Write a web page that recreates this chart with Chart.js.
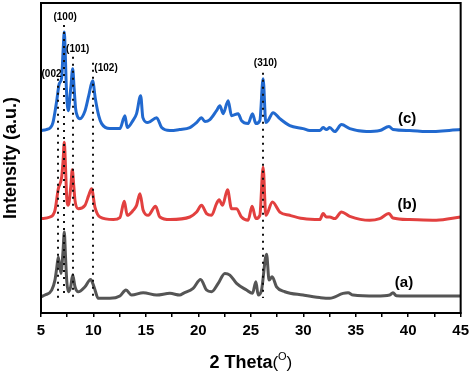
<!DOCTYPE html>
<html>
<head>
<meta charset="utf-8">
<script src="https://cdn.jsdelivr.net/npm/chart.js@4.4.1/dist/chart.umd.min.js"></script>
<style>
html,body{margin:0;padding:0;background:#fff;}
canvas{display:block;}
</style>
</head>
<body>
<canvas id="c" width="474" height="374"></canvas>
<script>
// ---- data (2θ in degrees, intensity in a.u. incl. stacking offset) ----
const thetaA = [5.0,5.38,6.02,6.33,6.5,6.65,6.9,7.1,7.22,7.33,7.45,7.6,7.83,8.02,8.24,8.55,9.19,9.73,10.05,10.46,11.57,12.52,13.10,13.64,14.74,16.02,17.29,18.24,18.56,19.5,20.21,20.78,21.25,21.89,22.52,23.0,23.64,24.59,25.16,25.48,25.7,26.02,26.5,26.74,27.03,27.45,28.24,29.98,31.57,32.52,33.79,34.27,34.75,36.97,38.24,38.55,38.87,40.78,45];
const intA   = [16.3,18,23,33,45,56.3,39.7,62,81.3,58,33,21.3,26.3,38,26.3,21.3,26.3,33.7,26.3,14.7,14.7,17,23,18,20.3,18,19.7,18,19.7,24.7,33.7,23,21.3,29.7,39.7,38,29.7,23,19.7,31.3,18,23,59,33,36.3,26.3,21.3,18,15.5,14.7,19.7,20.3,18,17,18,20.3,17.3,17,17];

const thetaB = [5.0,5.86,6.33,6.65,6.97,7.1,7.22,7.33,7.45,7.6,7.85,7.98,8.12,8.24,8.55,9.19,9.55,9.82,10.14,10.62,11.89,12.52,12.94,13.22,13.79,14.11,14.43,14.74,15.22,15.92,16.33,17.29,19.19,19.83,20.30,20.78,21.25,21.73,21.98,22.3,22.78,23.16,23.63,24.11,24.74,25.12,25.48,25.86,26.17,26.43,27.06,27.76,28.71,29.98,31.57,31.89,32.21,32.52,33.0,33.64,34.43,36.33,37.29,38.17,38.55,40.14,42.67,45];
const intB   = [94.7,96.3,103,124.7,136.3,152,171.3,148,116.3,108,128,143.7,128,113,104.7,108,118,124.7,106.3,96.3,93.7,95.7,112,98,103,108,119.7,103,98,107,96.3,93.7,96.3,101.3,108,99.7,98,109.7,113.7,108,123.7,104.7,104.7,96.3,93,107,94.7,98,146.3,98,111.3,101.3,98,94.7,93.7,99.7,96.3,96.3,94.7,101.3,97,93,94.7,99.7,95.3,93.7,93,96.3];

const thetaC = [5.0,5.5,5.9,6.14,6.5,6.74,6.97,7.1,7.22,7.32,7.42,7.6,7.84,8.02,8.16,8.3,8.45,8.71,9.2,9.55,9.92,10.18,10.5,10.78,11.57,12.52,13.0,13.22,13.76,14.11,14.5,14.71,15.19,16.02,16.5,17.29,18.2,19.19,19.83,20.3,20.62,21.1,21.73,22.05,22.36,22.84,23.16,23.79,24.11,24.74,25.16,25.48,25.86,26.17,26.43,26.65,27.12,27.76,28.71,29.98,30.62,31.57,31.89,32.21,32.52,33.0,33.64,34.43,36.02,37.29,38.17,38.55,40.14,41.73,45];
const intC   = [183,184,186,191,213,230,236,262,282,258,225,203,226,245,225,205,198,195,203,218,233,215,198,190,185,185,198,186,193,200,218,196,191,196,186,183,184,186,191,196,192,194,203,208,200,213,198,200,193,190,200,190,193,235,191,193,201,195,188,185,183,183,186,184,186,182,189,185,182,183,187,184,183,182,184];

const seriesNames  = ['(a)','(b)','(c)'];
const seriesColors = ['#555555','#e2403f','#2169cf'];
const nameTheta    = [39.6, 39.9, 39.9];
const nameInt      = [30, 108, 195];

const xTickValues = [5,10,15,20,25,30,35,40,45];
const xTickLabels = ['5','10','15','20','25','30','35','40','45'];

// reflection markers
const peakNames   = ['(002','(100)','(101)','(102)','(310)'];
const peakTheta   = [6.65, 7.22, 8.02, 9.92, 26.2];
const peakTopInt  = [235, 289, 257, 251, 241];
const peakBottomInt = 15;
const peakLabelTheta = [5.05, 7.3, 8.5, 11.2, 26.4];
const peakLabelInt   = [240, 297, 265, 246, 251];
const peakLabelAlign = ['left','center','center','center','center'];

const FONT = '"Liberation Sans", Arial, Helvetica, sans-serif';

function pts(t, v){ return t.map((x,i)=>({x:x, y:v[i]})); }

const annot = {
  id: 'annot',
  afterDatasetsDraw(chart){
    const ctx = chart.ctx, x = chart.scales.x, y = chart.scales.y, a = chart.chartArea;
    ctx.save();
    // dotted reference lines
    ctx.strokeStyle = '#111';
    ctx.lineWidth = 2;
    ctx.setLineDash([2,5]);
    peakTheta.forEach((p,i)=>{
      const px = Math.round(x.getPixelForValue(p));
      ctx.beginPath();
      ctx.moveTo(px, y.getPixelForValue(peakTopInt[i]));
      ctx.lineTo(px, y.getPixelForValue(peakBottomInt));
      ctx.stroke();
    });
    ctx.setLineDash([]);
    // peak labels
    ctx.fillStyle = '#000';
    ctx.font = 'bold 10px ' + FONT;
    ctx.textBaseline = 'middle';
    peakNames.forEach((n,i)=>{
      ctx.textAlign = peakLabelAlign[i];
      ctx.fillText(n, x.getPixelForValue(peakLabelTheta[i]), y.getPixelForValue(peakLabelInt[i]));
    });
    // series labels
    ctx.font = 'bold 15px ' + FONT;
    ctx.textAlign = 'center';
    seriesNames.forEach((n,i)=>{
      ctx.fillText(n, x.getPixelForValue(nameTheta[i]), y.getPixelForValue(nameInt[i]));
    });
    // frame
    ctx.strokeStyle = '#000';
    ctx.lineWidth = 2;
    ctx.strokeRect(a.left, a.top, a.right - a.left, a.bottom - a.top);
    // x axis title: 2 Theta(°)
    const cx = (a.left + a.right) / 2;
    const base = 368;
    const p1 = '2 Theta', p2 = '(', p3 = 'O', p4 = ')';
    ctx.textBaseline = 'alphabetic';
    ctx.textAlign = 'left';
    ctx.font = 'bold 18px ' + FONT; const w1 = ctx.measureText(p1).width;
    ctx.font = '17px ' + FONT; const w2 = ctx.measureText(p2).width;
    ctx.font = '11px ' + FONT; const w3 = ctx.measureText(p3).width;
    ctx.font = '17px ' + FONT; const w4 = ctx.measureText(p4).width;
    let sx = cx - (w1 + w2 + w3 + w4) / 2;
    ctx.font = 'bold 18px ' + FONT; ctx.fillText(p1, sx, base); sx += w1;
    ctx.font = '17px ' + FONT; ctx.fillText(p2, sx, base); sx += w2;
    ctx.font = '11px ' + FONT; ctx.fillText(p3, sx, base - 8); sx += w3;
    ctx.font = '17px ' + FONT; ctx.fillText(p4, sx, base);
    ctx.restore();
  }
};

const datasets = [
  {data: pts(thetaA, intA)},
  {data: pts(thetaB, intB)},
  {data: pts(thetaC, intC)}
].map((d,i)=>Object.assign(d, {
  label: seriesNames[i],
  borderColor: seriesColors[i],
  backgroundColor: seriesColors[i],
  borderWidth: 3,
  pointRadius: 0,
  cubicInterpolationMode: 'monotone',
  fill: false
}));

new Chart(document.getElementById('c'), {
  type: 'line',
  data: {datasets},
  options: {
    responsive: false,
    animation: false,
    devicePixelRatio: 1,
    layout: {padding: {top: 3, right: 13, left: 0, bottom: 0}},
    plugins: {legend: {display: false}, tooltip: {enabled: false}},
    scales: {
      x: {
        type: 'linear',
        min: 5, max: 45,
        afterFit(s){ s.height = 61; },
        afterBuildTicks(s){
          const t = [];
          for (let v = 5; v <= 45.001; v += 2.5) t.push({value: v});
          s.ticks = t;
        },
        ticks: {
          autoSkip: false,
          maxRotation: 0,
          padding: 5,
          color: '#000',
          font: {family: FONT, weight: 'bold', size: 15},
          callback(v){ const k = xTickValues.indexOf(v); return k >= 0 ? xTickLabels[k] : ''; }
        },
        grid: {display: true, drawOnChartArea: false, drawTicks: true, tickLength: 4, color: '#000', lineWidth: 1.5},
        border: {display: true, color: '#000', width: 2}
      },
      y: {
        min: 0, max: 311,
        afterFit(s){ s.width = 41; },
        ticks: {display: false},
        grid: {display: false, drawTicks: false},
        border: {display: true, color: '#000', width: 2},
        title: {display: true, text: 'Intensity (a.u.)', color: '#000', font: {family: FONT, weight: 'bold', size: 18}, padding: {top: 0, bottom: 0}}
      }
    }
  },
  plugins: [annot]
});
</script>
</body>
</html>
